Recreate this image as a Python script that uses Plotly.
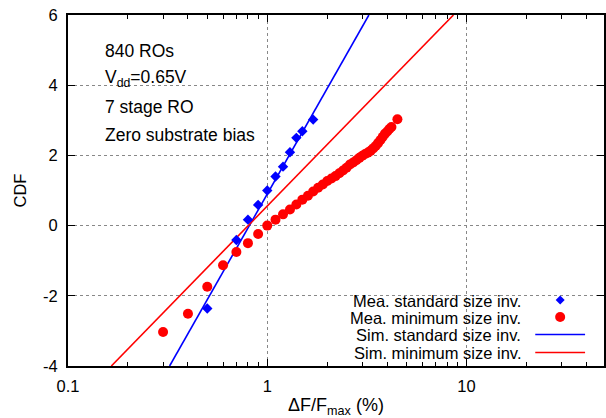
import plotly.graph_objects as go

# ---- data ----
std_x = [0.5, 0.7, 0.8, 0.9, 1.0, 1.1, 1.2, 1.3, 1.4, 1.5, 1.7]
std_y = [-2.36, -0.41, 0.17, 0.59, 1.00, 1.40, 1.68, 2.09, 2.50, 2.69, 3.02]

min_x = [0.3, 0.4, 0.5, 0.6, 0.7, 0.8, 0.9, 1.0, 1.1, 1.2, 1.3, 1.4, 1.5, 1.6, 1.7,
         1.8, 1.9, 2.0, 2.1, 2.2, 2.3, 2.4, 2.5, 2.6, 2.7, 2.8, 2.9, 3.0, 3.1, 3.2,
         3.3, 3.4, 3.5, 3.6, 3.7, 3.8, 3.9, 4.0, 4.1, 4.2, 4.5]
min_y = [-3.03, -2.51, -1.74, -1.13, -0.75, -0.50, -0.24, 0.00, 0.17, 0.32, 0.46,
         0.60, 0.74, 0.85, 0.97, 1.08, 1.17, 1.27, 1.34, 1.41, 1.49, 1.57, 1.65,
         1.74, 1.80, 1.86, 1.93, 1.99, 2.04, 2.08, 2.13, 2.20, 2.27, 2.35, 2.44,
         2.53, 2.62, 2.68, 2.75, 2.81, 3.03]

sim_std_x = [0.3236, 3.236]
sim_std_y = [-4.0, 6.0]
sim_min_x = [0.165, 8.6]
sim_min_y = [-4.0, 6.0]

x_tickvals = [0.1, 1, 10]
x_ticktext = ["0.1", "1", "10"]
y_tickvals = [-4, -2, 0, 2, 4, 6]
y_ticktext = ["-4", "-2", "0", "2", "4", "6"]

legend_labels = ["Mea. standard size inv.", "Mea. minimum size inv.",
                 "Sim. standard size inv.", "Sim. minimum size inv."]
info_lines = ["840 ROs", "V<sub>dd</sub>=0.65V", "7 stage RO", "Zero substrate bias"]

BLUE = "#0000ff"
RED = "#ff0000"
FONT = "Liberation Sans, Arial, sans-serif"

fig = go.Figure()
fig.add_trace(go.Scatter(x=sim_std_x, y=sim_std_y, mode="lines",
                         line=dict(color=BLUE, width=1.6), showlegend=False))
fig.add_trace(go.Scatter(x=sim_min_x, y=sim_min_y, mode="lines",
                         line=dict(color=RED, width=1.6), showlegend=False))
fig.add_trace(go.Scatter(x=min_x, y=min_y, mode="markers",
                         marker=dict(color=RED, size=10, symbol="circle"), showlegend=False))
fig.add_trace(go.Scatter(x=std_x, y=std_y, mode="markers",
                         marker=dict(color=BLUE, size=8, symbol="diamond"), showlegend=False))

L, R, T, B = 68, 0, 15, 52
W, H = 606, 418
pw, ph = W - L - R, H - T - B

def px(X):
    return (X - L) / pw

def py(Y):
    return (T + ph - Y) / ph

shapes = []
# white legend background hiding the grid
shapes.append(dict(type="rect", xref="paper", yref="paper", x0=px(282), x1=1.0,
                   y0=py(363), y1=py(287), fillcolor="white", line=dict(width=0),
                   layer="between"))

annotations = []
rows = [300, 317, 334.5, 352.5]
for lab, ry in zip(legend_labels, rows):
    annotations.append(dict(text=lab, xref="paper", yref="paper", x=px(525), y=py(ry),
                            xanchor="right", yanchor="middle", showarrow=False,
                            height=17,
                            font=dict(family=FONT, size=16.5, color="black")))
# legend symbols
shapes.append(dict(type="path", xref="paper", yref="paper", xsizemode="pixel",
                   ysizemode="pixel", xanchor=px(562), yanchor=py(rows[0]),
                   path="M 0 4.5 L 4.5 0 L 0 -4.5 L -4.5 0 Z", fillcolor=BLUE,
                   line=dict(width=0)))
shapes.append(dict(type="circle", xref="paper", yref="paper", xsizemode="pixel",
                   ysizemode="pixel", xanchor=px(562), yanchor=py(rows[1]),
                   x0=-5, x1=5, y0=-5, y1=5, fillcolor=RED, line=dict(width=0)))
shapes.append(dict(type="line", xref="paper", yref="paper", x0=px(537), x1=px(587),
                   y0=py(rows[2]), y1=py(rows[2]), line=dict(color=BLUE, width=1.6)))
shapes.append(dict(type="line", xref="paper", yref="paper", x0=px(537), x1=px(587),
                   y0=py(rows[3]), y1=py(rows[3]), line=dict(color=RED, width=1.6)))

info_y = [51, 78.5, 107, 135]
for txt, iy in zip(info_lines, info_y):
    annotations.append(dict(text=txt, xref="paper", yref="paper", x=px(103), y=py(iy),
                            xanchor="left", yanchor="middle", showarrow=False,
                            font=dict(family=FONT, size=17.5, color="black")))

fig.update_layout(
    width=W, height=H,
    margin=dict(l=L, r=R, t=T, b=B),
    paper_bgcolor="white", plot_bgcolor="white",
    font=dict(family=FONT, size=16, color="black"),
    shapes=shapes, annotations=annotations,
    showlegend=False,
)
fig.update_xaxes(
    type="log", range=[-1, 1.69],
    tickvals=x_tickvals, ticktext=x_ticktext,
    ticks="inside", ticklen=7, tickwidth=1, tickcolor="black",
    ticklabelstandoff=4,
    showline=True, linecolor="black", linewidth=2, mirror="ticks",
    showgrid=True, gridcolor="#888", griddash="dot", gridwidth=1,
    minor=dict(ticks="inside", ticklen=4, tickcolor="black", showgrid=False,
               tickvals=[0.2, 0.3, 0.4, 0.5, 0.6, 0.7, 0.8, 0.9,
                         2, 3, 4, 5, 6, 7, 8, 9, 20, 30, 40]),
    tickfont=dict(size=16.5),
    title=dict(text="ΔF/F<sub>max</sub> (%)", font=dict(size=18), standoff=10),
    zeroline=False,
)
fig.update_yaxes(
    range=[-4, 6], tickvals=y_tickvals, ticktext=y_ticktext,
    ticks="inside", ticklen=7, tickwidth=1, tickcolor="black",
    ticklabelstandoff=5,
    showline=True, linecolor="black", linewidth=2, mirror="ticks",
    showgrid=True, gridcolor="#888", griddash="dot", gridwidth=1,
    tickfont=dict(size=16.5),
    title=dict(text="CDF", font=dict(size=16.5), standoff=12),
    zeroline=False,
)

fig.write_html("out.html")
